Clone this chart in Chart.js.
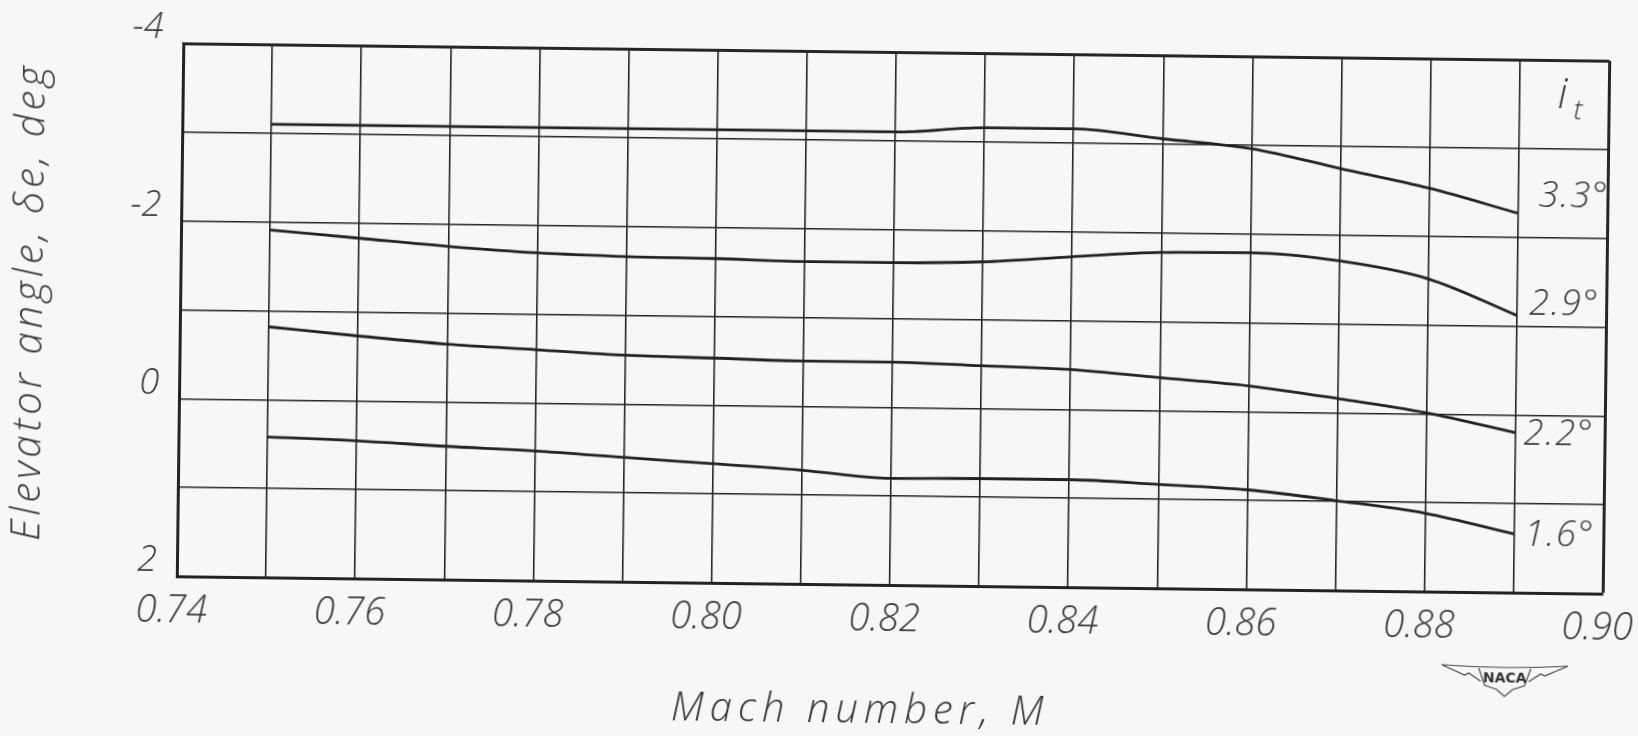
<!DOCTYPE html>
<html>
<head>
<meta charset="utf-8">
<title>Elevator angle vs Mach number</title>
<script src="https://cdn.jsdelivr.net/npm/chart.js@4/dist/chart.umd.min.js"></script>
<style>
  html, body { margin: 0; padding: 0; background: #f7f7f7; overflow: hidden; }
  /* la hoja escaneada esta un poco girada */
  #wrap { position: absolute; left: 0; top: 0; width: 1638px; height: 736px;
          transform: rotate(0.7deg); transform-origin: 893px 318px; }
</style>
</head>
<body>
<div id="wrap"><canvas id="myChart" width="1638" height="736"></canvas></div>
<script>
/** datos */
const mach = [0.75, 0.76, 0.77, 0.78, 0.79, 0.80, 0.81, 0.82, 0.83, 0.84, 0.85, 0.86, 0.87, 0.88, 0.89]

const it33 = [-3.10, -3.10, -3.10, -3.10, -3.10, -3.10, -3.10, -3.10, -3.16, -3.16, -3.06, -2.96, -2.75, -2.54, -2.27]
const it29 = [-1.91, -1.83, -1.75, -1.69, -1.66, -1.65, -1.63, -1.63, -1.65, -1.72, -1.78, -1.79, -1.71, -1.52, -1.12]
const it22 = [-0.82, -0.73, -0.65, -0.60, -0.55, -0.53, -0.51, -0.51, -0.48, -0.45, -0.37, -0.29, -0.16, -0.01, 0.20]
const it16 = [0.42, 0.45, 0.50, 0.54, 0.60, 0.66, 0.72, 0.80, 0.79, 0.79, 0.83, 0.88, 0.99, 1.12, 1.34]

const series = [it33, it29, it22, it16]
const serieLabels = ['3.3°', '2.9°', '2.2°', '1.6°']

const xTickValues = [0.74, 0.76, 0.78, 0.80, 0.82, 0.84, 0.86, 0.88, 0.90]
const xTickLabels = ['0.74', '0.76', '0.78', '0.80', '0.82', '0.84', '0.86', '0.88', '0.90']
const yTickValues = [-4, -2, 0, 2]
const yTickLabels = ['-4', '-2', '0', '2']

const xTitle = 'Mach number, M'
const yTitle = 'Elevator angle, δe, deg'

const tinta = '#222222'
const letra = '#3a3a3a'
const fuente = '"Open Sans", "Liberation Sans", sans-serif'

function buscarLabel(valores, labels, v) {
  const i = valores.findIndex(t => Math.abs(t - v) < 1e-6)
  return i >= 0 ? labels[i] : ''
}

/**
 * textos que no son del eje: titulos, etiquetas i_t, logo
 */
const textos = {
  id: 'textos',
  afterDraw(chart) {
    const { ctx, scales: { x, y } } = chart
    ctx.save()
    ctx.fillStyle = letra
    ctx.textBaseline = 'middle'

    // titulos
    ctx.font = 'italic 300 40px ' + fuente
    ctx.textAlign = 'center'
    ctx.letterSpacing = '6px'
    ctx.fillText(xTitle, 865, 712)

    ctx.save()
    ctx.translate(31, 312)
    ctx.rotate(-Math.PI / 2)
    ctx.letterSpacing = '4px'
    ctx.fillText(yTitle, 0, 0)
    ctx.restore()

    // etiquetas de cada curva
    const nudge = [[20, -17], [12, -11], [8, 2], [10, 1]]
    const x0 = x.getPixelForValue(mach[mach.length - 1])
    ctx.textAlign = 'left'
    ctx.letterSpacing = '2px'
    ctx.font = 'italic 300 36px ' + fuente
    series.forEach((s, i) => {
      const py = y.getPixelForValue(s[s.length - 1])
      ctx.fillText(serieLabels[i], x0 + nudge[i][0], py + nudge[i][1])
    })

    // i_t
    ctx.letterSpacing = '0px'
    ctx.font = 'italic 300 42px ' + fuente
    ctx.fillText('i', x0 + 38, y.getPixelForValue(-3.6))
    ctx.font = 'italic 300 28px ' + fuente
    ctx.fillText('t', x0 + 54, y.getPixelForValue(-3.42))

    // logo NACA
    const cx = 1509, cy = 670
    ctx.strokeStyle = '#4a4a4a'
    ctx.lineWidth = 1.2
    ctx.beginPath()
    ctx.moveTo(cx - 63, cy - 12)
    ctx.quadraticCurveTo(cx, cy - 8, cx + 63, cy - 12)
    ctx.moveTo(cx - 63, cy - 12)
    ctx.lineTo(cx - 40, cy - 2)
    ctx.lineTo(cx - 36, cy - 4)
    ctx.lineTo(cx - 24, cy + 4)
    ctx.moveTo(cx + 63, cy - 12)
    ctx.lineTo(cx + 40, cy - 2)
    ctx.lineTo(cx + 36, cy - 4)
    ctx.lineTo(cx + 24, cy + 4)
    ctx.moveTo(cx - 26, cy - 9)
    ctx.lineTo(cx - 20, cy + 8)
    ctx.lineTo(cx - 8, cy + 12)
    ctx.lineTo(cx, cy + 19)
    ctx.lineTo(cx + 8, cy + 12)
    ctx.lineTo(cx + 20, cy + 8)
    ctx.lineTo(cx + 26, cy - 9)
    ctx.stroke()
    ctx.font = '600 14px "DejaVu Sans", sans-serif'
    ctx.textAlign = 'center'
    ctx.fillStyle = '#333'
    ctx.fillText('NACA', cx, cy + 1)
    ctx.restore()
  }
}

document.addEventListener('DOMContentLoaded', () => {
  const ctx = document.getElementById('myChart')

  const datasets = series.map((s, i) => ({
    label: serieLabels[i],
    data: s.map((v, j) => ({ x: mach[j], y: v })),
    borderColor: tinta,
    borderWidth: 2.8,
    pointRadius: 0,
    fill: false,
    cubicInterpolationMode: 'monotone'
  }))

  new Chart(ctx, {
    type: 'line',
    data: { datasets },
    options: {
      responsive: false,
      devicePixelRatio: 1,
      animation: false,
      layout: { padding: { top: 52, right: 32, left: 0, bottom: 0 } },
      plugins: { legend: { display: false }, tooltip: { enabled: false } },
      scales: {
        x: {
          type: 'linear',
          min: 0.74,
          max: 0.90,
          afterFit(scale) {
            scale.height = 151
            scale.paddingLeft = 0
            scale.paddingRight = 0
          },
          border: { display: true, color: tinta, width: 3 },
          grid: {
            drawTicks: false,
            color: '#262626',
            lineWidth: c => (c.tick && Math.abs(c.tick.value - 0.90) < 1e-6) ? 3 : 1.6
          },
          ticks: {
            stepSize: 0.01,
            autoSkip: false,
            maxRotation: 0,
            padding: 12,
            labelOffset: -5,
            color: letra,
            font: { family: fuente, size: 38, style: 'italic', weight: 300 },
            callback: v => buscarLabel(xTickValues, xTickLabels, v)
          }
        },
        y: {
          type: 'linear',
          reverse: true,
          min: -4,
          max: 2,
          afterFit(scale) {
            scale.width = 180
            scale.paddingTop = 0
            scale.paddingBottom = 0
          },
          border: { display: true, color: tinta, width: 3 },
          grid: {
            drawTicks: false,
            color: '#262626',
            lineWidth: c => (c.tick && c.tick.value === -4) ? 3 : 1.6
          },
          ticks: {
            stepSize: 1,
            autoSkip: false,
            padding: 20,
            labelOffset: -15,
            color: letra,
            font: { family: fuente, size: 36, style: 'italic', weight: 300 },
            callback: v => buscarLabel(yTickValues, yTickLabels, v)
          }
        }
      }
    },
    plugins: [textos]
  })
})
</script>
</body>
</html>
